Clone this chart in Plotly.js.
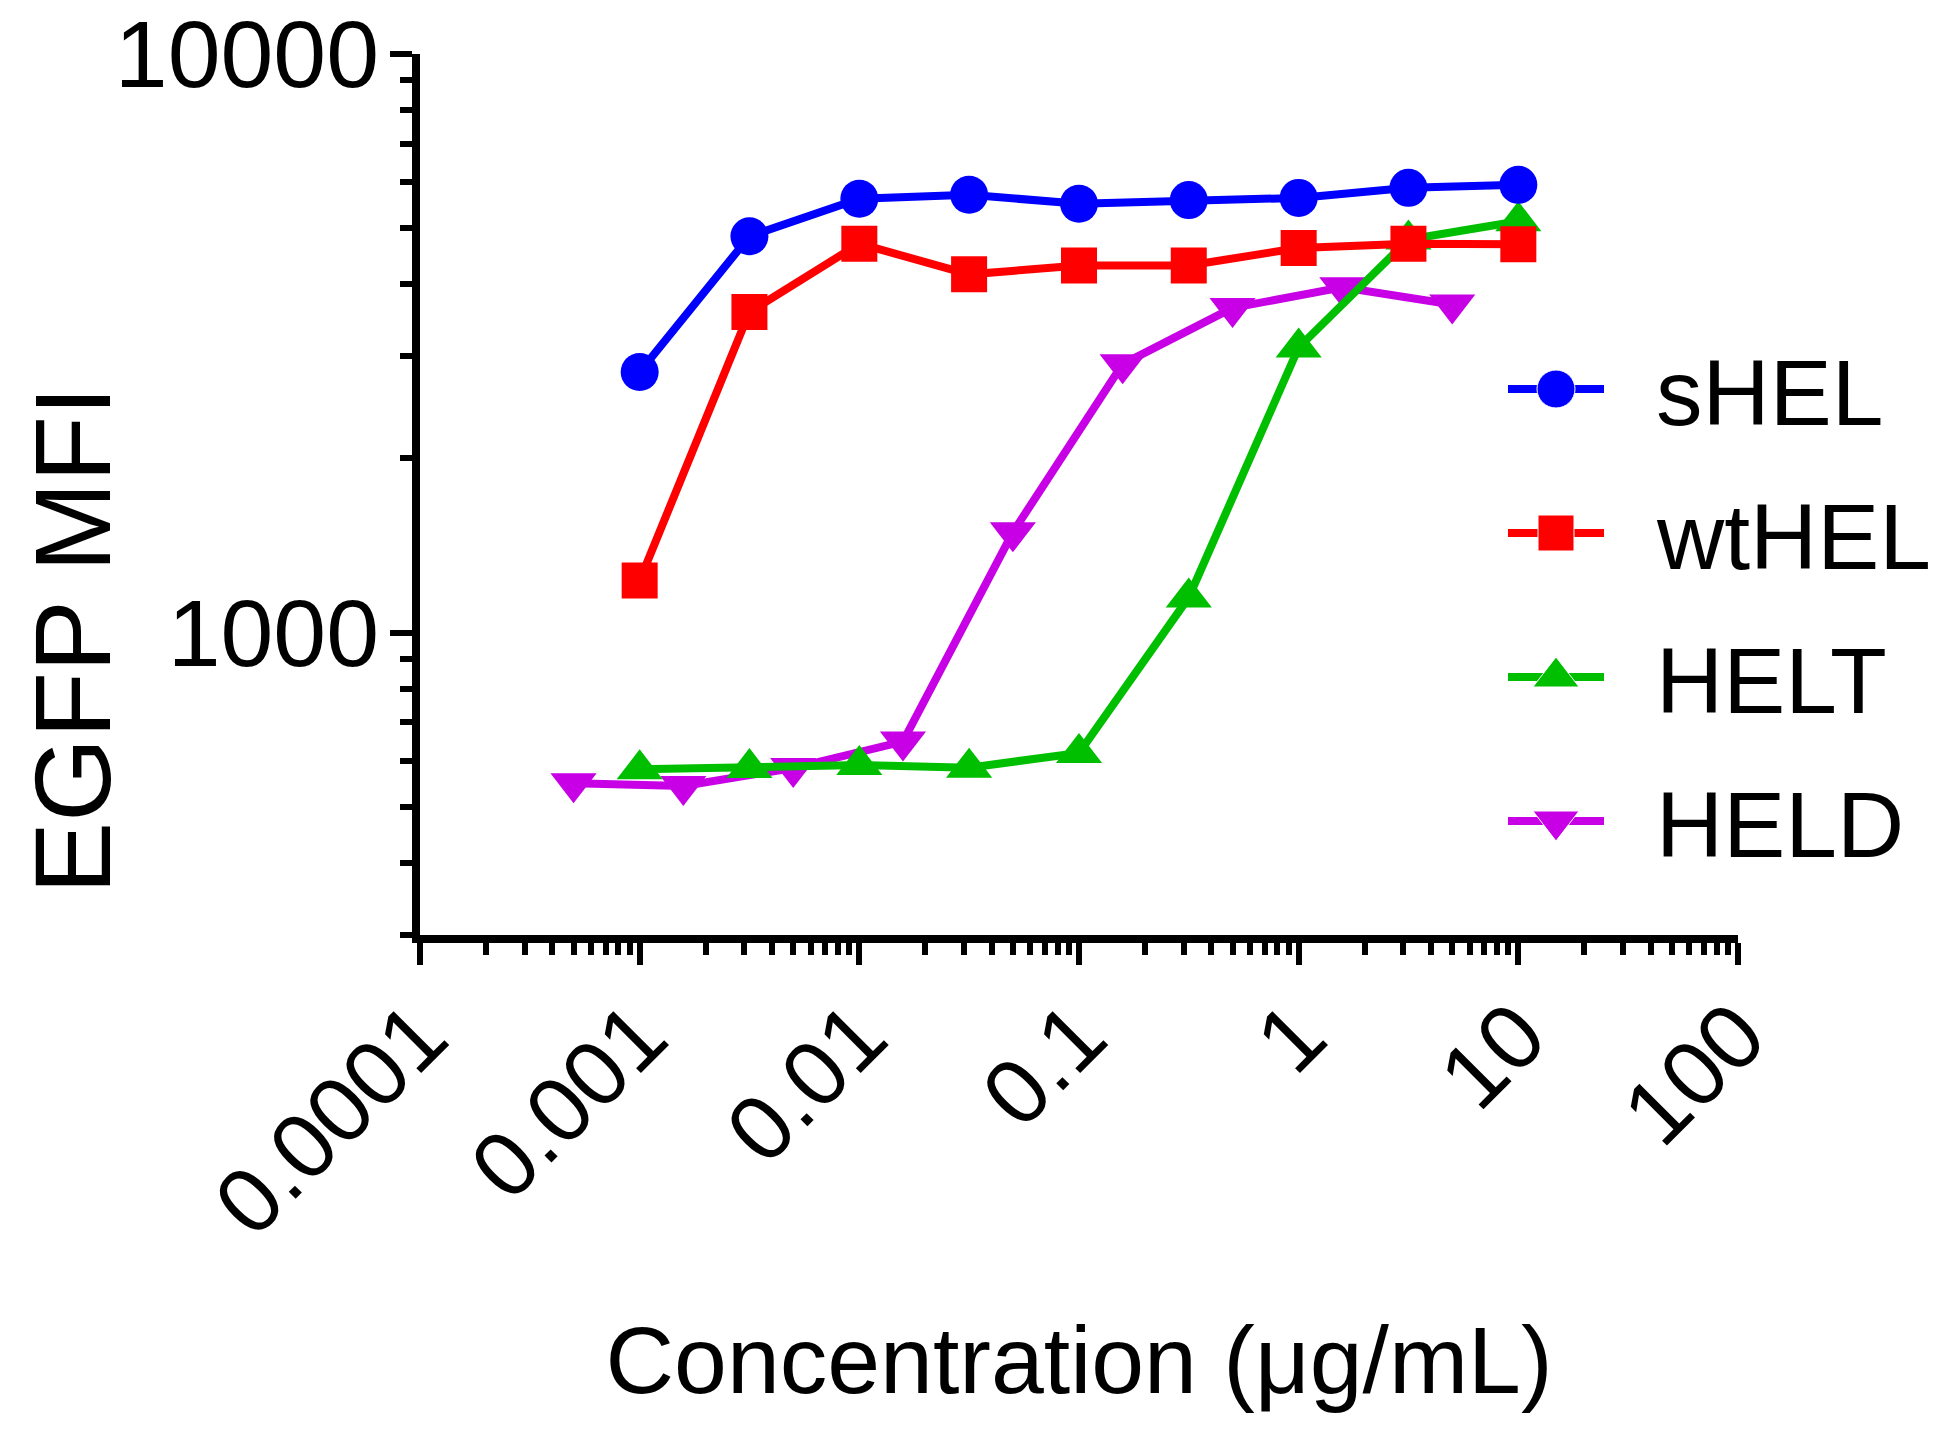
<!DOCTYPE html>
<html>
<head>
<meta charset="utf-8">
<script src="https://cdn.plot.ly/plotly-3.0.1.min.js"></script>
<style>html,body{margin:0;padding:0;background:#fff;}#chart{width:1950px;height:1434px;}</style>
</head>
<body>
<div id="chart"></div>
<script>
// ---- data ----
const seriesNames = ["sHEL", "wtHEL", "HELT", "HELD"];
const concA = [0.001, 0.00316, 0.01, 0.0316, 0.1, 0.316, 1, 3.16, 10];      // sHEL, wtHEL, HELT
const concD = [0.0005, 0.00158, 0.005, 0.0158, 0.05, 0.158, 0.5, 1.58, 5];  // HELD
const sHEL  = [2820, 4840, 5620, 5710, 5510, 5590, 5640, 5870, 5940];
const wtHEL = [1230, 3580, 4700, 4160, 4310, 4310, 4620, 4700, 4690];
const HELT  = [580, 583, 590, 584, 619, 1150, 3110, 4780, 5140];
const HELD  = [549, 543, 583, 648, 1490, 2910, 3640, 3950, 3690];
const xTickVals = [0.0001, 0.001, 0.01, 0.1, 1, 10, 100];
const xTickText = ["0.0001", "0.001", "0.01", "0.1", "1", "10", "100"];
const yTickVals = [1000, 10000];
const yTickText = ["1000", "10000"];
const xTitle = "Concentration (μg/mL)";
const yTitle = "EGFP MFI";

// ---- styles ----
const FONT = "Liberation Sans, Arial, Helvetica, sans-serif";
const colors = {sHEL: "#0000FF", wtHEL: "#FF0000", HELT: "#00BF00", HELD: "#C800E6"};
const symbols = {sHEL: "circle", wtHEL: "square", HELT: "triangle-up", HELD: "triangle-down"};
const msize = {sHEL: 38, wtHEL: 36, HELT: 40, HELD: 40};
const LW = 8;

const seriesData = {
  sHEL: [concA, sHEL], wtHEL: [concA, wtHEL], HELT: [concA, HELT], HELD: [concD, HELD]
};

// minor tick positions (digits 2..9 in each decade)
function minorTicks(lo, hi) {
  const out = [];
  for (let d = lo; d < hi; d++) for (let k = 2; k <= 9; k++) out.push(k * Math.pow(10, d));
  return out;
}

// drawing order: HELD at bottom, sHEL on top
const drawOrder = ["HELD", "HELT", "wtHEL", "sHEL"];
const traces = drawOrder.map(n => ({
  type: "scatter", mode: "lines+markers", name: n,
  x: seriesData[n][0], y: seriesData[n][1],
  line: {color: colors[n], width: LW},
  marker: {color: colors[n], symbol: symbols[n], size: msize[n], opacity: 1},
  showlegend: false, cliponaxis: false, xaxis: "x", yaxis: "y"
}));

// custom legend (large line + symbol samples) on a hidden helper subplot
seriesNames.forEach((n, i) => {
  traces.push({
    type: "scatter", mode: "lines+markers", name: n + " (legend)",
    x: [0, 1, 2], y: [i, i, i],
    line: {color: colors[n], width: LW},
    marker: {color: colors[n], symbol: symbols[n], size: [0, msize[n], 0], opacity: 1},
    showlegend: false, hoverinfo: "skip", cliponaxis: false,
    xaxis: "x2", yaxis: "y2"
  });
});

const W = 1950, H = 1434;
const L = 420, R = 1738, T = 54, B = 935;
const pw = R - L, ph = B - T;
const px2fx = p => (p - L) / pw;
const py2fy = p => (B - p) / ph;

// legend geometry (pixels)
const legTop = 389, legStep = 144, legX0 = 1508, legX1 = 1604, legText = 1654;

const annotations = seriesNames.map((n, i) => ({
  xref: "paper", yref: "paper", x: px2fx(legText), y: py2fy(legTop + i * legStep + 4),
  text: n, showarrow: false,
  xanchor: "left", yanchor: "middle", font: {family: FONT, size: 93, color: "#000"}
}));
annotations.push({
  xref: "paper", yref: "paper", x: px2fx(72), y: py2fy(640), text: yTitle,
  showarrow: false, textangle: -90, xanchor: "center", yanchor: "middle",
  font: {family: FONT, size: 108, color: "#000"}
});

const layout = {
  width: W, height: H,
  margin: {l: L, r: W - R, t: T, b: H - B, pad: 0},
  paper_bgcolor: "#fff", plot_bgcolor: "rgba(0,0,0,0)",
  showlegend: false,
  font: {family: FONT, color: "#000"},
  xaxis: {
    type: "log", range: [-4, 2], domain: [0, 1],
    showgrid: false, zeroline: false,
    showline: true, linecolor: "#000", linewidth: 8,
    ticks: "outside", ticklen: 22, tickwidth: 6, tickcolor: "#000",
    tickmode: "array", tickvals: xTickVals, ticktext: xTickText, tickangle: -45,
    ticklabelstandoff: -20,
    tickfont: {family: FONT, size: 92, color: "#000"},
    minor: {ticks: "outside", ticklen: 12, tickwidth: 6, tickcolor: "#000",
            tickmode: "array", tickvals: minorTicks(-4, 2), showgrid: false},
    title: {text: xTitle, font: {family: FONT, size: 95, color: "#000"}, standoff: 76},
    automargin: false, fixedrange: true
  },
  yaxis: {
    type: "log", range: [Math.log10(300), 4], domain: [0, 1],
    showgrid: false, zeroline: false,
    showline: true, linecolor: "#000", linewidth: 8,
    ticks: "outside", ticklen: 22, tickwidth: 6, tickcolor: "#000",
    tickmode: "array", tickvals: yTickVals, ticktext: yTickText,
    ticklabelstandoff: -8,
    tickfont: {family: FONT, size: 95, color: "#000"},
    minor: {ticks: "outside", ticklen: 12, tickwidth: 6, tickcolor: "#000",
            tickmode: "array", tickvals: minorTicks(2, 4).filter(v => v >= 300), showgrid: false},
    automargin: false, fixedrange: true
  },
  xaxis2: {
    domain: [px2fx(legX0), px2fx(legX1)], range: [0, 2], anchor: "y2",
    visible: false, fixedrange: true
  },
  yaxis2: {
    domain: [py2fy(legTop + 3.5 * legStep), py2fy(legTop - 0.5 * legStep)], range: [3.5, -0.5], anchor: "x2",
    visible: false, fixedrange: true
  },
  annotations: annotations
};

Plotly.newPlot("chart", traces, layout, {displayModeBar: false, staticPlot: true});
</script>
</body>
</html>
